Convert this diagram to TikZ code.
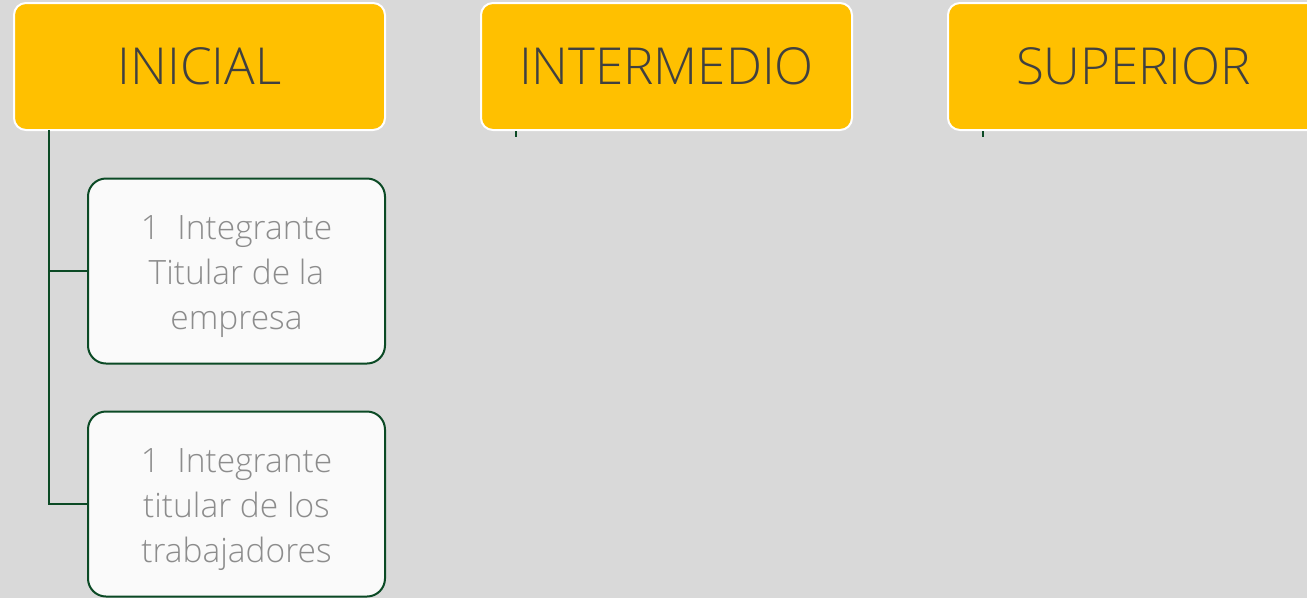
\documentclass[tikz,border=0pt]{standalone}
\usepackage{fontspec}
\setmainfont{Open Sans}
\newfontfamily\lightfont{Open Sans Light}
\definecolor{bg}{HTML}{D9D9D9}
\definecolor{gold}{HTML}{FFC000}
\definecolor{dtext}{HTML}{404040}
\definecolor{dgreen}{HTML}{0B4A25}
\definecolor{cfill}{HTML}{FAFAFA}
\definecolor{ctext}{HTML}{8C8C8C}
\tikzset{
  x=1pt, y=-1pt,
  levelbox/.style={draw=white, line width=2pt, fill=gold, rounded corners=12pt,
    minimum width=371pt, minimum height=127pt, inner sep=0pt,
    text=dtext, font=\lightfont\fontsize{51}{60}\selectfont},
  childbox/.style={draw=dgreen, line width=2pt, fill=cfill, rounded corners=18pt,
    minimum width=297pt, minimum height=185pt, inner sep=0pt, align=center,
    text=ctext, font=\lightfont\fontsize{33.5}{45}\selectfont},
  conn/.style={draw=dgreen, line width=2pt}
}
\newcommand{\lowtext}[1]{\raisebox{-4pt}[\height][\depth]{\begin{tabular}{@{}c@{}}#1\end{tabular}}}
\begin{document}
\begin{tikzpicture}
\fill[bg] (0,0) rectangle (1307,598);
\useasboundingbox (0,0) rectangle (1307,598);
\begin{scope}
\clip (0,0) rectangle (1307,598);
\node[levelbox] (ini) at (199.5,66.5) {INICIAL};
\node[levelbox] (int) at (666.5,66.5) {INTERMEDIO};
\node[levelbox] (sup) at (1133.5,66.5) {SUPERIOR};
\node[childbox] (c1) at (236.5,271) {\lowtext{1\ \ Integrante\\Titular de la\\empresa}};
\node[childbox] (c2) at (236.5,504) {\lowtext{1\ \ Integrante\\titular de los\\trabajadores}};
\coordinate (s1) at (516,137);
\coordinate (s2) at (983,137);
\coordinate (trunk) at (49,130);
\end{scope}
\draw[conn] (trunk) |- (c2.west);
\draw[conn] (c1.west) -- (c1.west -| trunk);
\draw[conn] (int.south -| s1) -- (s1);
\draw[conn] (sup.south -| s2) -- (s2);
\end{tikzpicture}
\end{document}
